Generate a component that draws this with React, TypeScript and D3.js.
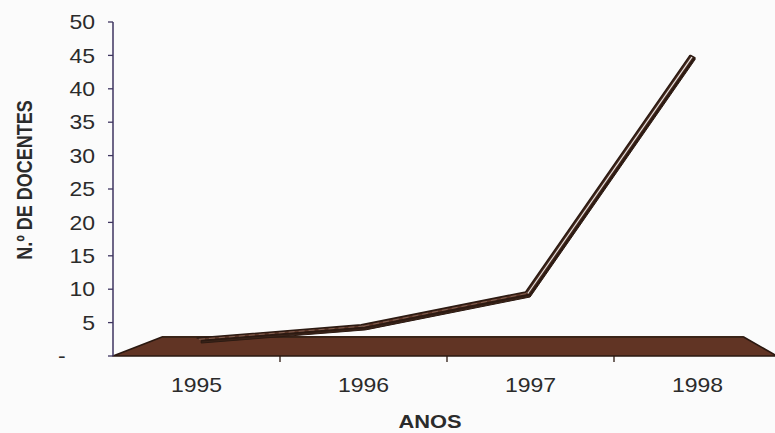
import React from "react";
import * as d3 from "d3";

const categories = ["1995", "1996", "1997", "1998"];
const values = [2, 4, 9, 45];
const yTicks = [0, 5, 10, 15, 20, 25, 30, 35, 40, 45, 50];
const yTickLabels = ["-", "5", "10", "15", "20", "25", "30", "35", "40", "45", "50"];
const yTitle = "N.º DE DOCENTES";
const xTitle = "ANOS";

const W = 775;
const H = 433;
const FONT = "'Liberation Sans', Arial, sans-serif";
const TXT = "#2b2b2b";

export default function App() {
  const x = d3.scaleBand<string>().domain(categories).range([113, 781]).padding(0);
  const y = d3.scaleLinear().domain([0, 50]).range([356, 22]);
  const VP = { x: 508, y: 203 };
  const proj = (px: number, py: number, k: number): [number, number] => [
    VP.x + (px - VP.x) * k,
    VP.y + (py - VP.y) * k,
  ];

  const kBack = 0.876;
  const fl: [number, number][] = [
    [113, y(0)],
    [777, y(0)],
    proj(777, y(0), kBack),
    proj(113, y(0), kBack),
  ];

  const kLine = 0.985;
  const depth = { dx: -4.5, dy: -2.5 };
  const pts = categories.map((c, i) => {
    const cx = (x(c) as number) + x.bandwidth() / 2;
    const f = proj(cx, y(values[i]), kLine);
    return {
      f,
      b: [f[0] + depth.dx, f[1] + depth.dy] as [number, number],
      m: [f[0] + depth.dx / 2, f[1] + depth.dy / 2] as [number, number],
      l: [f[0], f[1] + 2.5] as [number, number],
    };
  });

  const segs = pts.slice(0, -1).map((p, i) => {
    const q = pts[i + 1];
    const steep = Math.abs((q.f[1] - p.f[1]) / (q.f[0] - p.f[0])) > 1;
    return { poly: [p.f, q.f, q.b, p.b], mid: [p.m, q.m], steep };
  });
  const line = d3.line<[number, number]>();

  const boundaries = categories.map((c) => x(c) as number).slice(1);

  return (
    <svg
      width={W}
      height={H}
      style={{ position: "absolute", left: 0, top: 0 }}
      fontFamily={FONT}
    >
      <rect width={W} height={H} fill="#fbfbfb" />
      {/* floor */}
      <path
        d={line(fl) + "Z"}
        fill="#613424"
        stroke="#2a1810"
        strokeWidth={1.6}
        strokeLinejoin="round"
      />
      <path d={line([fl[3], fl[2]]) as string} stroke="#3a2418" strokeWidth={2} fill="none" />

      {/* ribbon front face */}
      <path
        d={line([...pts.map((p) => p.f), ...pts.map((p) => p.l).reverse()]) + "Z"}
        fill="#3a2318"
        stroke="#2c1a12"
        strokeWidth={1}
        strokeLinejoin="round"
      />
      {/* ribbon top face */}
      {segs.map((s, i) => (
        <path
          key={i}
          d={line(s.poly as [number, number][]) + "Z"}
          fill={s.steep ? "#4a2e22" : "#5e3526"}
          stroke="none"
        />
      ))}
      <path
        d={line(pts.map((p) => p.f)) as string}
        fill="none"
        stroke="#2c1a12"
        strokeWidth={1.8}
        strokeLinejoin="round"
      />
      <path
        d={line(pts.map((p) => p.b)) as string}
        fill="none"
        stroke="#2c1a12"
        strokeWidth={1.6}
        strokeLinejoin="round"
      />
      {segs.map((s, i) => (
        <path
          key={"m" + i}
          d={line(s.mid as [number, number][]) as string}
          fill="none"
          stroke={s.steep ? "#ebe7e5" : "#8a6a5c"}
          strokeWidth={s.steep ? 1.1 : 0.8}
          strokeDasharray={s.steep ? undefined : "6 4"}
        />
      ))}
      <path
        d={line([pts[pts.length - 1].l, pts[pts.length - 1].f, pts[pts.length - 1].b]) as string}
        stroke="#2c1a12"
        fill="none"
        strokeWidth={1.6}
      />

      {/* y axis */}
      <line x1={113} x2={113} y1={y(50)} y2={y(0)} stroke="#3e3560" strokeWidth={1.5} />
      {yTicks.map((t, i) => (
        <g key={t}>
          <line x1={108} x2={113} y1={y(t)} y2={y(t)} stroke="#3e3560" strokeWidth={1.3} />
          {t === 0 ? (
            <text
              transform={`translate(58,${y(t)}) scale(1.15,1)`}
              dy="0.35em"
              fontSize={20}
              fill={TXT}
            >
              {yTickLabels[i]}
            </text>
          ) : (
            <text
              transform={`translate(95,${y(t)}) scale(1.15,1)`}
              dy="0.36em"
              textAnchor="end"
              fontSize={20}
              fill={TXT}
            >
              {yTickLabels[i]}
            </text>
          )}
        </g>
      ))}

      {/* x ticks */}
      {boundaries.map((b, i) => (
        <line key={i} x1={b} x2={b} y1={y(0)} y2={y(0) + 6} stroke="#2a1810" strokeWidth={1.3} />
      ))}
      {categories.map((c) => (
        <text
          key={c}
          transform={`translate(${(x(c) as number) + x.bandwidth() / 2},392) scale(1.15,1)`}
          textAnchor="middle"
          fontSize={20}
          fill={TXT}
        >
          {c}
        </text>
      ))}

      {/* titles */}
      <text
        transform="translate(430,428) scale(1.15,1)"
        textAnchor="middle"
        fontSize={19}
        fontWeight="bold"
        fill={TXT}
      >
        {xTitle}
      </text>
      <text
        transform="translate(24,180) scale(1.2,1) rotate(-90)"
        textAnchor="middle"
        dy="0.35em"
        fontSize={18}
        fontWeight="bold"
        fill={TXT}
      >
        {yTitle}
      </text>
    </svg>
  );
}
